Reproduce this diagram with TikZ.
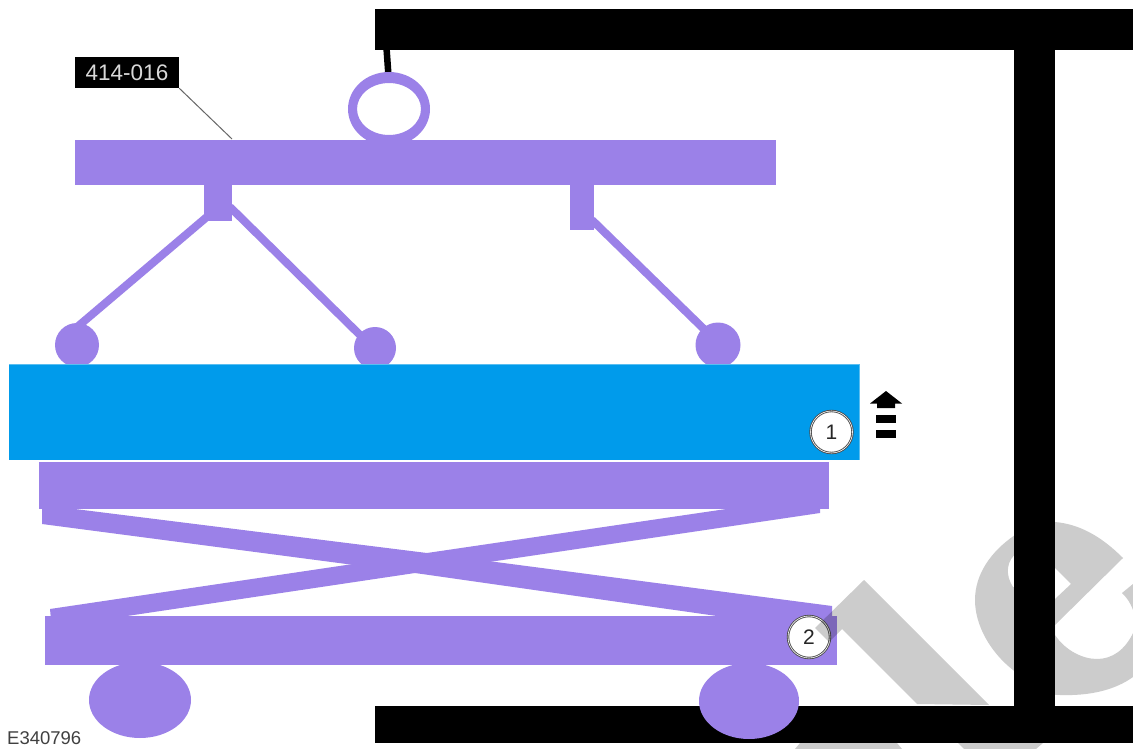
\documentclass[tikz,border=0pt]{standalone}
\usepackage{fontspec}
\setmainfont{Liberation Sans}
\definecolor{lift}{RGB}{155,129,232}
\definecolor{deck}{RGB}{0,155,235}
\definecolor{deckedge}{RGB}{90,190,240}
\definecolor{wm}{RGB}{204,204,204}
\tikzset{
  liftpart/.style={fill=lift,draw=none},
  struct/.style={fill=black,draw=none},
  link/.style={draw=lift,line width=8pt},
  callout/.style={circle,fill=white,draw=black!70,line width=0.9pt,minimum size=42pt,inner sep=0pt,
    font=\fontsize{21}{21}\selectfont,double=white,text=black!85},
  tagbox/.style={fill=black,text=white!85!black,inner sep=0pt,minimum width=104pt,minimum height=31pt,
    font=\fontsize{22.5}{22.5}\selectfont},
  wmark/.style={fill=wm,draw=none}
}
\begin{document}
\begin{tikzpicture}[x=1pt,y=-1pt]
\useasboundingbox[fill=white] (0,0) rectangle (1133,749);
% structure
\fill[struct] (375,9.5) rectangle (1133,50);
\fill[struct] (1014,50) rectangle (1055,706);
\fill[struct] (375,706) rectangle (1133,743);
\draw[line width=6.5pt] (386.5,48) -- (388.5,76);
% lifting bar
\fill[lift,even odd rule] (389,109) ellipse [x radius=41,y radius=37] (389,109) ellipse [x radius=32,y radius=26];
\fill[liftpart] (75,140) rectangle (776,185);
\fill[liftpart] (203.5,184) rectangle (232,221);
\fill[liftpart] (570,184) rectangle (594,230);
\draw[link] (208,216) -- (76,328);
\draw[link] (230,207) -- (361,336);
\draw[link] (592,220) -- (709,334);
\fill[liftpart] (77,345) circle [radius=22];
\fill[liftpart] (375,348) circle [radius=21];
\fill[liftpart] (718,345) circle [radius=22.5];
% deck
\fill[deck] (9,364) rectangle (859,459.5);
\draw[deckedge,line width=0.8pt] (9,364) -- (859,364) -- (859,459.5);
% scissor table
\fill[liftpart] (39,461.5) rectangle (829,509);
\fill[liftpart] (44.5,616) rectangle (837,665);
\fill[liftpart] (42,507) -- (75,509) -- (427,553) -- (832,606) -- (832,620) -- (745,620) -- (415,573) -- (42,524) -- cycle;
\fill[liftpart] (820,507) -- (820,513) -- (415,573) -- (127,616) -- (127,620) -- (51,620) -- (50,609) -- (427,553) -- (733,508) -- cycle;
\fill[liftpart] (140,700) ellipse [x radius=51,y radius=38];
\fill[liftpart] (749,701) ellipse [x radius=50,y radius=38];
% direction arrow
\fill[struct] (886,391) -- (902,403.5) -- (895,403.5) -- (895,408) -- (877,408) -- (877,403.5) -- (870,403.5) -- cycle;
\fill[struct] (876,415) rectangle (896,423);
\fill[struct] (876,429.5) rectangle (896,438);
% tool tag and leader
\node[tagbox] (tag) at (127,72.5) {414-016};
\coordinate (tagend) at (232,139);
\draw[black!60,line width=1pt] (tag.south east) -- (tagend);
% callouts
\node[callout] (c1) at (831.5,432) {1};
\node[callout] (c2) at (809,637) {2};
% figure number
\node[anchor=west,inner sep=0pt,text=black!75,font=\fontsize{18.5}{18.5}\selectfont] (fig) at (7,738) {E340796};
% watermark
\begin{scope}[blend mode=multiply]
\fill[wmark] (864,580) -- (815,628) -- (829,642) -- (842,629) -- (917,704) -- (989,705) -- cycle;
\fill[wmark] (800,743) -- (897,743) -- (902,749) -- (795,749) -- cycle;
\fill[wmark] (958,743) -- (1043,743) -- (1036,749) -- (964,749) -- cycle;
\fill[wmark,even odd rule] (1123,558) .. controls (1100,535) and (1078,524) .. (1055,522)
  .. controls (1040,521) and (1027,526) .. (1015,535)
  .. controls (990,552) and (975,575) .. (975,600)
  .. controls (975,625) and (990,652) .. (1013,670)
  .. controls (1028,685) and (1042,695) .. (1060,695)
  .. controls (1090,696) and (1115,690) .. (1133,677)
  -- (1133,633) .. controls (1125,650) and (1112,659) .. (1097,659)
  .. controls (1082,659) and (1065,650) .. (1055,635) -- (1055,625) -- cycle
  (1071,584) -- (1055,568) -- (1018,552) .. controls (1006,560) and (1005,575) .. (1013,587) -- (1055,599) -- cycle;
\fill[wmark] (1122,593) -- (1133,584) -- (1133,610) .. controls (1130,602) and (1127,598) .. (1122,593) -- cycle;
\end{scope}
\end{tikzpicture}
\end{document}
